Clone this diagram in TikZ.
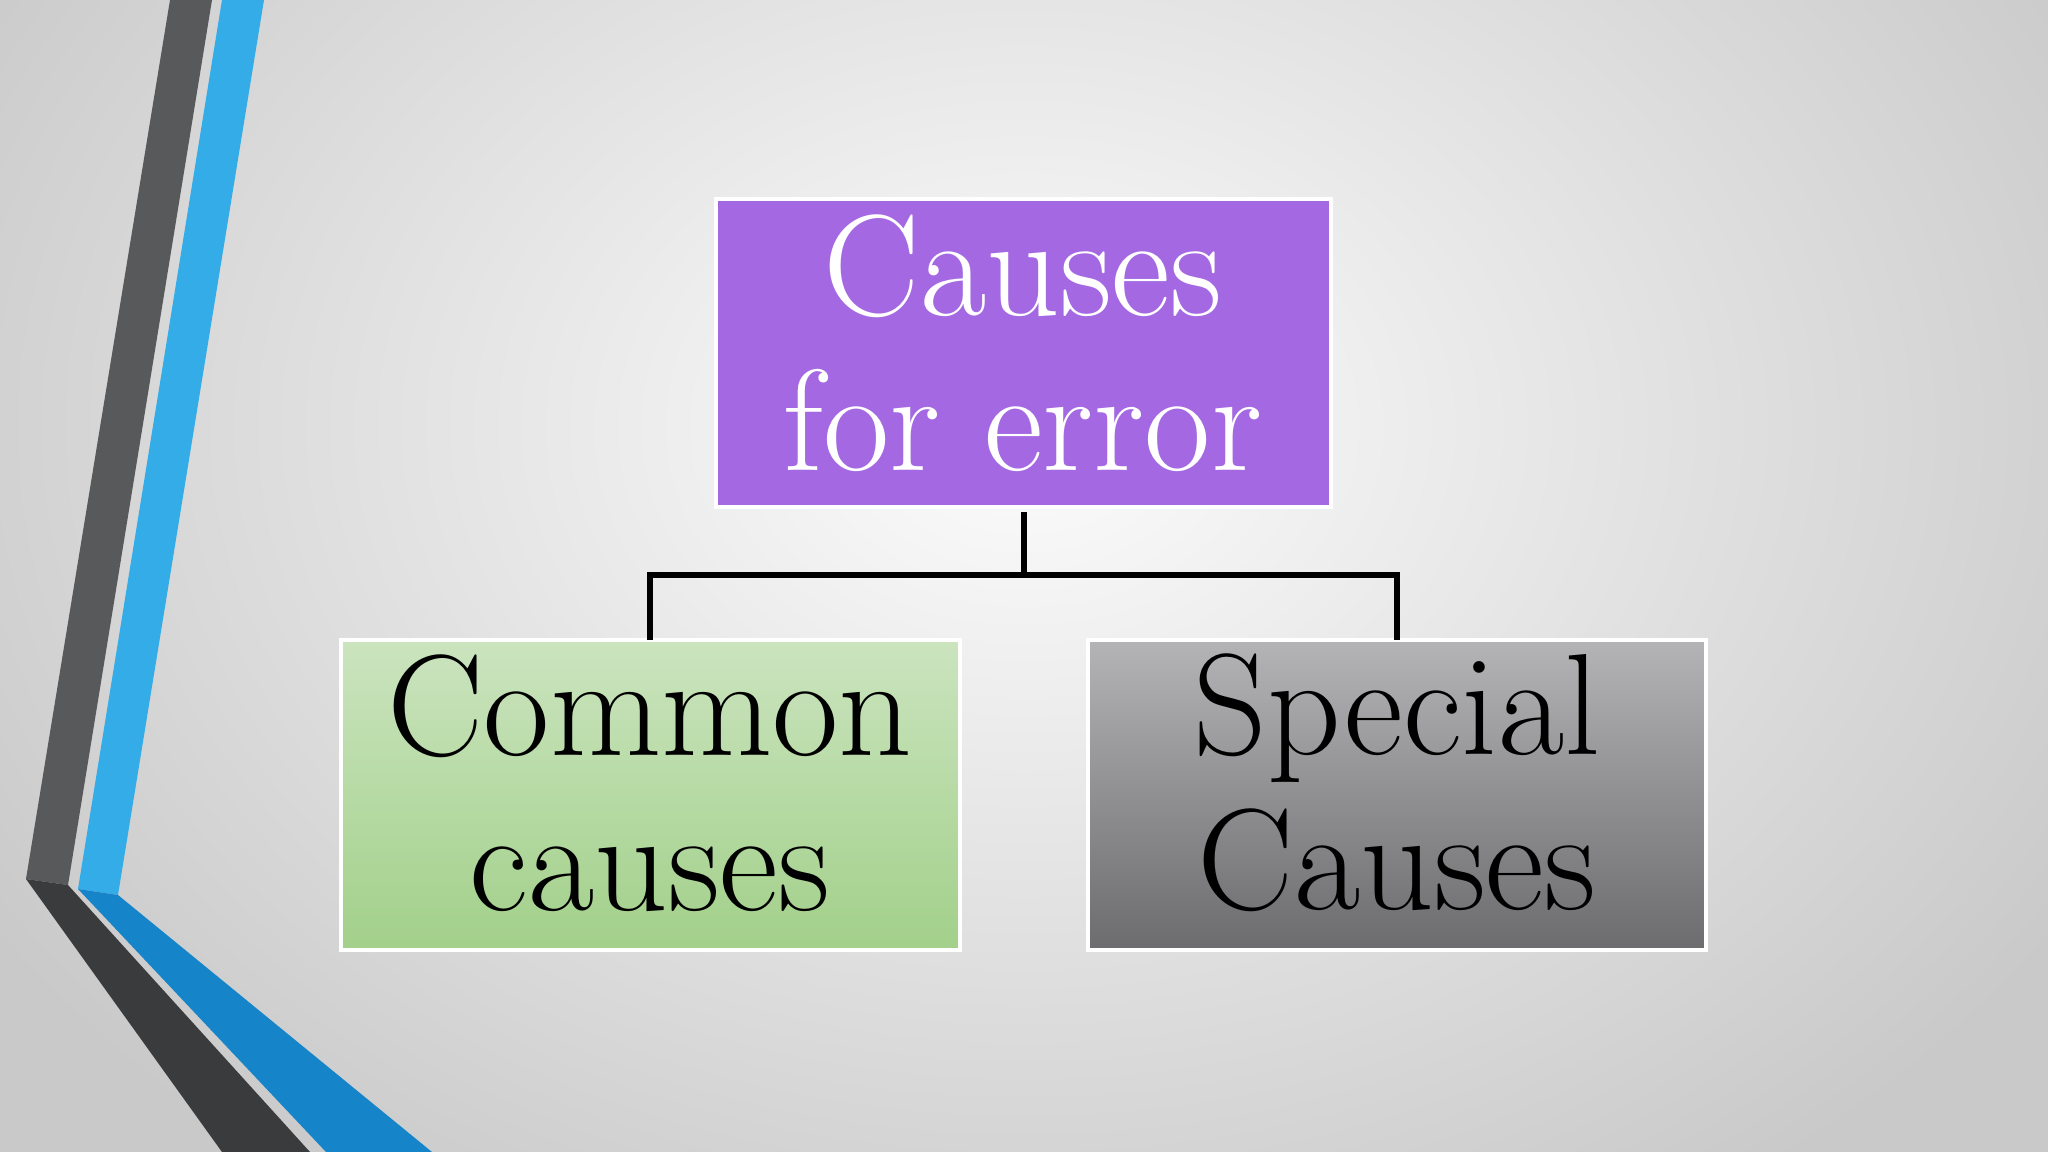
\documentclass[tikz,border=0pt]{standalone}
\usetikzlibrary{shapes.geometric}
\definecolor{purp}{HTML}{A469E2}
\definecolor{gtop}{HTML}{CBE4BF}
\definecolor{gbot}{HTML}{A2D08A}
\definecolor{ytop}{HTML}{B4B4B6}
\definecolor{ybot}{HTML}{6C6C6E}
\definecolor{dgray}{HTML}{58595B}
\definecolor{dblk}{HTML}{3A3B3D}
\definecolor{lblue}{HTML}{33ACE8}
\definecolor{dblue}{HTML}{1684C8}
\tikzset{
  boxtxt/.style={align=center,font=\fontsize{41}{44}\selectfont},
  conn/.style={line width=1.6pt,black}
}
\begin{document}
\begin{tikzpicture}[x=0.01cm,y=-0.01cm]
\useasboundingbox (0,0) rectangle (2048,1152);
\shade[inner color=gray!2,outer color=gray!42] (-200,-500) rectangle (2248,1352);
\fill[dgray] (170,0)--(212,0)--(68,885)--(26,879)--cycle;
\fill[dblk] (26,879)--(68,885)--(310,1152)--(222,1152)--cycle;
\fill[lblue] (222,0)--(264,0)--(118,895)--(78,889)--cycle;
\fill[dblue] (78,889)--(118,895)--(432,1152)--(326,1152)--cycle;
\draw[white,line width=1pt,fill=purp] (716,199) rectangle (1331,507);
\node[boxtxt,text=white] (top) at (1023,343) {Causes\\for error};
\draw[white,line width=1pt,top color=gtop,bottom color=gbot] (341,640) rectangle (960,950);
\node[boxtxt] (left) at (650,783) {Common\\causes};
\draw[white,line width=1pt,top color=ytop,bottom color=ybot] (1088,640) rectangle (1706,950);
\node[boxtxt] (right) at (1397,783) {Special\\Causes};
\coordinate (t) at (1024,512);
\coordinate (m) at (1024,575);
\coordinate (la) at (650,575);
\coordinate (lb) at (650,640);
\coordinate (ra) at (1397,575);
\coordinate (rb) at (1397,640);
\draw[conn] (t)--(m);
\draw[conn] (lb)--(la)--(ra)--(rb);
\end{tikzpicture}
\end{document}
